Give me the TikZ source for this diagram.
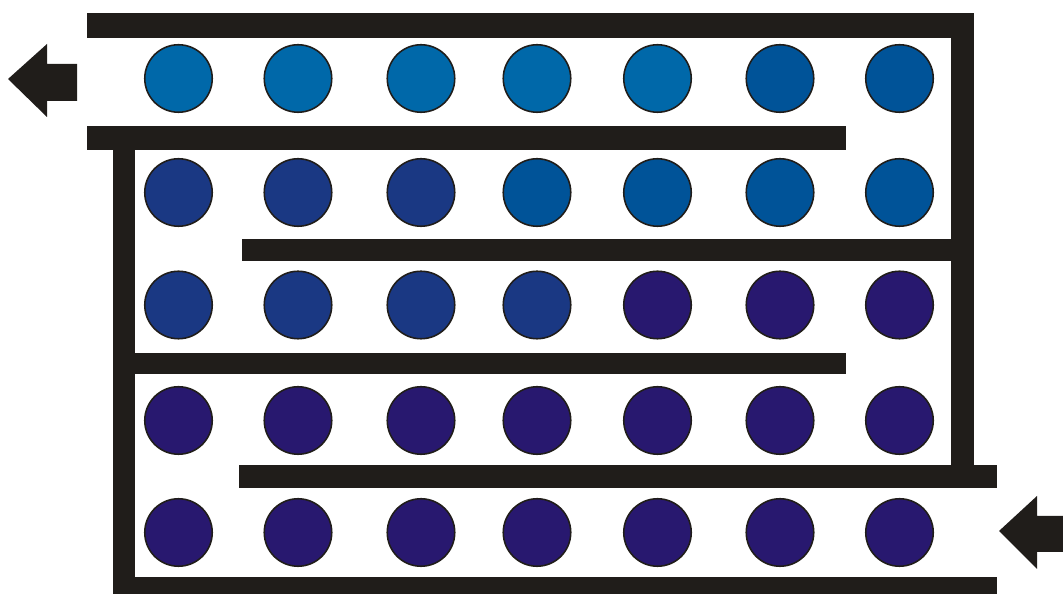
\documentclass[tikz,border=0pt]{standalone}
\definecolor{wallblack}{HTML}{201D1A}
\definecolor{blueA}{HTML}{0068A9}
\definecolor{blueB}{HTML}{005398}
\definecolor{blueC}{HTML}{1A3883}
\definecolor{blueD}{HTML}{28186F}
\begin{document}
\begin{tikzpicture}[x=0.02cm, y=-0.02cm,
  ball/.style={circle, draw=wallblack, line width=0.9pt, minimum size=1.35cm, inner sep=0pt}]
\useasboundingbox (0,0) rectangle (1063,594);
% walls of the channel
\fill[wallblack] (87,13) rectangle (974,38);\fill[wallblack] (951,13) rectangle (974,466);
\fill[wallblack] (87,126) rectangle (846,150);\fill[wallblack] (113,126) rectangle (135,594);
\fill[wallblack] (242,239) rectangle (974,261);\fill[wallblack] (135,353) rectangle (846,374);
\fill[wallblack] (239,465) rectangle (997,488);\fill[wallblack] (113,577) rectangle (997,594);
% outlet and inlet
\fill[wallblack] (8,79) -- (47,44) -- (47,64) -- (77,64) -- (77,101) -- (47,101) -- (47,117) -- cycle;
\fill[wallblack] (999,531) -- (1037,496) -- (1037,516) -- (1063,516) -- (1063,552) -- (1037,552) -- (1037,569) -- cycle;
% tubes
\foreach \x/\col [count=\c] in {178.5/blueA,298/blueA,421/blueA,537/blueA,657.5/blueA,780/blueB,899.5/blueB} {\node[ball, fill=\col] (r1c\c) at (\x,78.5) {};}
\foreach \x/\col [count=\c] in {178.5/blueC,298/blueC,421/blueC,537/blueB,657.5/blueB,780/blueB,899.5/blueB} {\node[ball, fill=\col] (r2c\c) at (\x,192.5) {};}
\foreach \x/\col [count=\c] in {178.5/blueC,298/blueC,421/blueC,537/blueC,657.5/blueD,780/blueD,899.5/blueD} {\node[ball, fill=\col] (r3c\c) at (\x,305) {};}
\foreach \x [count=\c] in {178.5,298,421,537,657.5,780,899.5} {\node[ball, fill=blueD] (r4c\c) at (\x,420.5) {};}
\foreach \x [count=\c] in {178.5,298,421,537,657.5,780,899.5} {\node[ball, fill=blueD] (r5c\c) at (\x,532.5) {};}
\end{tikzpicture}
\end{document}
